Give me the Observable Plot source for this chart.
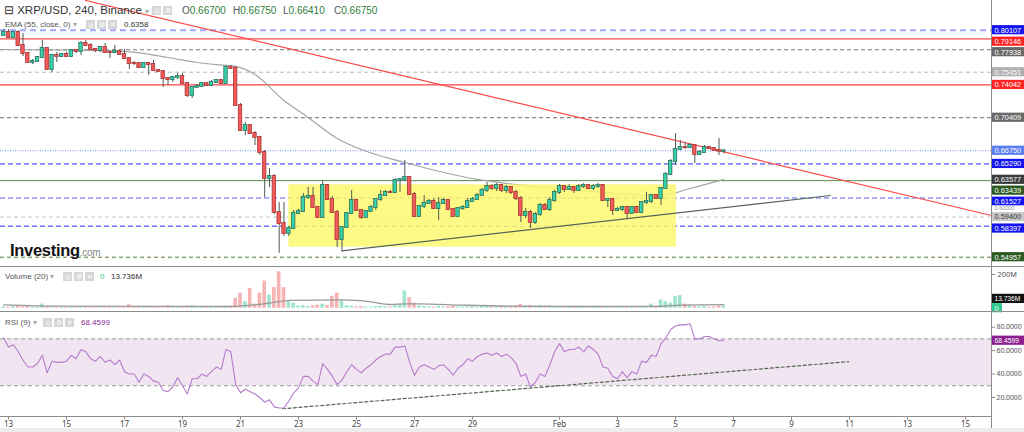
<!DOCTYPE html>
<html><head><meta charset="utf-8">
<script src="https://cdn.jsdelivr.net/npm/d3@7"></script>
<script src="https://cdn.jsdelivr.net/npm/@observablehq/plot@0.6"></script>
<style>
body{margin:0;background:#fff;font-family:Arial,"Liberation Sans",sans-serif;}
#wrap{position:relative;width:1024px;height:432px;overflow:hidden;background:#fff;}
.t{position:absolute;white-space:nowrap;line-height:1;}
.ic{position:absolute;width:9px;height:9px;background:#d6d6d6;color:#fff;font-size:7px;text-align:center;line-height:9px;}
.ln{position:absolute;background:#8c8c8c;}
</style></head><body><div id="wrap"></div>
<script>
// ---------- DATA ----------
const firstCandle = "2019-01-12T20:00Z";   // 4h candles
const firstOpen = 0.7952;
const close = [0.7985,0.7930,0.7985,0.7841,0.7752,0.7653,0.7664,0.7708,0.7808,0.7575,
0.7730,0.7719,0.7741,0.7719,0.7786,0.7775,0.7863,0.7841,0.7797,0.7786,
0.7819,0.7764,0.7762,0.7775,0.7741,0.7697,0.7642,0.7640,0.7597,0.7642,
0.7631,0.7564,0.7553,0.7476,0.7464,0.7487,0.7498,0.7420,0.7287,0.7376,
0.7387,0.7420,0.7398,0.7431,0.7453,0.7420,0.7597,0.7586,0.7176,0.6899,
0.6955,0.6866,0.6822,0.6656,0.6368,0.6390,0.5991,0.5869,0.5758,0.5814,
0.5980,0.6002,0.6157,0.6168,0.6047,0.5936,0.6290,0.6135,0.5991,0.5692,
0.5825,0.5980,0.6124,0.6013,0.5936,0.6002,0.6047,0.6135,0.6179,0.6213,
0.6211,0.6346,0.6357,0.6379,0.6190,0.5947,0.6058,0.6091,0.6113,0.6035,
0.6091,0.6124,0.6024,0.5947,0.6035,0.6047,0.6113,0.6135,0.6179,0.6235,
0.6279,0.6257,0.6290,0.6235,0.6268,0.6213,0.6146,0.5958,0.5991,0.5880,
0.5969,0.6069,0.6024,0.6124,0.6213,0.6279,0.6246,0.6268,0.6235,0.6279,
0.6290,0.6257,0.6279,0.6290,0.6124,0.6135,0.6013,0.6024,0.6047,0.5980,
0.6047,0.5991,0.6102,0.6113,0.6179,0.6146,0.6257,0.6412,0.6556,0.6689,
0.6711,0.6709,0.6733,0.6634,0.6656,0.6711,0.6700,0.6678,0.6670,0.6675];
const high = [0.8018,0.8018,0.7996,0.8007,0.7974,0.7764,0.7686,0.7719,0.7897,0.7819,
0.7741,0.7764,0.7752,0.7764,0.7797,0.7797,0.7885,0.7897,0.7863,0.7808,
0.7830,0.7863,0.7786,0.7841,0.7786,0.7797,0.7700,0.7664,0.7653,0.7653,
0.7653,0.7675,0.7575,0.7564,0.7487,0.7498,0.7531,0.7531,0.7431,0.7387,
0.7409,0.7431,0.7420,0.7453,0.7464,0.7464,0.7609,0.7620,0.7609,0.7199,
0.6988,0.6955,0.6888,0.6833,0.6678,0.6478,0.6412,0.6102,0.6102,0.5836,
0.6013,0.6024,0.6202,0.6268,0.6268,0.6058,0.6346,0.6301,0.6168,0.6013,
0.5836,0.5991,0.6235,0.6135,0.6024,0.6013,0.6069,0.6146,0.6235,0.6235,
0.6235,0.6368,0.6368,0.6567,0.6390,0.6213,0.6069,0.6179,0.6135,0.6146,
0.6157,0.6146,0.6124,0.6035,0.6047,0.6069,0.6146,0.6157,0.6202,0.6257,
0.6323,0.6301,0.6312,0.6301,0.6290,0.6279,0.6235,0.6168,0.6035,0.6013,
0.5991,0.6091,0.6091,0.6157,0.6235,0.6301,0.6290,0.6301,0.6279,0.6301,
0.6312,0.6301,0.6301,0.6312,0.6301,0.6146,0.6146,0.6047,0.6058,0.6058,
0.6058,0.6058,0.6113,0.6213,0.6190,0.6190,0.6268,0.6434,0.6578,0.6866,
0.6789,0.6766,0.6755,0.6744,0.6678,0.6733,0.6722,0.6711,0.6811,0.6675];
const low = [0.7941,0.7919,0.7919,0.7830,0.7719,0.7642,0.7631,0.7664,0.7697,0.7564,
0.7542,0.7653,0.7708,0.7708,0.7708,0.7752,0.7730,0.7830,0.7786,0.7764,
0.7764,0.7752,0.7697,0.7752,0.7730,0.7686,0.7575,0.7620,0.7586,0.7586,
0.7509,0.7553,0.7542,0.7376,0.7398,0.7431,0.7464,0.7409,0.7265,0.7254,
0.7365,0.7376,0.7387,0.7387,0.7420,0.7409,0.7409,0.7575,0.7165,0.6888,
0.6844,0.6855,0.6733,0.6623,0.6157,0.6268,0.5969,0.5537,0.5725,0.5725,
0.5803,0.5969,0.5991,0.6135,0.6035,0.5925,0.5925,0.6124,0.5980,0.5603,
0.5570,0.5814,0.5969,0.6002,0.5914,0.5925,0.6002,0.6013,0.6113,0.6168,
0.6202,0.6202,0.6213,0.6335,0.6179,0.5936,0.5936,0.6035,0.6091,0.6024,
0.5902,0.6080,0.6013,0.5936,0.5947,0.6013,0.6035,0.6113,0.6124,0.6168,
0.6213,0.6235,0.6224,0.6213,0.6202,0.6190,0.6124,0.5880,0.5925,0.5814,
0.5858,0.5947,0.6013,0.6002,0.6102,0.6190,0.6213,0.6235,0.6202,0.6224,
0.6257,0.6246,0.6235,0.6257,0.6113,0.6047,0.5958,0.6002,0.6002,0.5914,
0.5969,0.5980,0.5980,0.6080,0.6091,0.6135,0.6069,0.6246,0.6401,0.6512,
0.6678,0.6689,0.6700,0.6534,0.6623,0.6656,0.6689,0.6667,0.6623,0.6641];
const volumeM = [8,6,10,12,9,14,6,7,24,10,
8,6,5,6,7,5,6,8,6,5,
7,6,5,6,4,7,20,8,6,12,
9,7,10,6,15,8,6,7,12,14,
8,6,5,6,7,5,12,10,59,89,
39,118,24,89,161,78,122,216,122,43,
30,12,15,10,14,18,24,16,70,89,
45,15,12,8,10,7,6,10,12,9,
6,18,24,102,63,30,14,10,8,6,
12,7,9,11,8,6,7,9,6,10,
12,7,6,8,7,10,14,22,12,16,
10,14,8,12,10,6,8,7,6,9,
6,8,5,12,9,7,10,8,12,9,
6,8,10,12,24,12,49,39,30,69,
75,24,18,10,8,12,6,8,14,13.736];
const rsi = [71,63,65,59,52,46,46,49,56,41,
51,50,50,51,56,53,61,59,53,51,
55,50,52,48,52,42,40,40,33,40,
38,34,33,26,25,29,37,30,23,36,
36,40,38,42,46,44,61,59,31,24,
27,25,23,20,16,18,12,11,11,17,
24,28,38,38,34,31,49,44,38,31,
35,42,48,44,41,45,48,52,55,57,
57,63,63,64,50,39,46,48,46,44,
47,48,44,39,45,48,53,51,55,57,
58,56,58,55,57,54,49,38,40,29,
33,40,38,48,59,66,59,61,61,63,
59,64,61,57,46,45,38,36,42,37,
42,40,51,50,56,55,66,71,78,81,
82,82,83,70,70,72,72,70,68.4,68.4599];
// EMA(55) readings: candle index -> value
const emaIdx = [0,25,34,40,46,48,52,58,63,69,74,83,98,110,124,136,142,149];
const emaVal = [0.7797,0.7775,0.7708,0.7653,0.7620,0.7609,0.7520,0.7232,0.7044,0.6811,0.6689,0.6545,0.6357,0.6279,0.6213,0.6179,0.6257,0.6358];
// Volume MA(20) readings (millions)
const vmaIdx = [0,12,47,50,55,59,70,76,80,83,86,95,105,120,135,140,149];
const vmaVal = [20,12,10,15,30,47,49,38,22,26,26,18,12,10,11,18,21];
// horizontal levels drawn on the chart
const levels = [0.80107,0.79146,0.77938,0.75451,0.74042,0.70409,0.66750,0.65290,0.63439,0.61527,0.59400,0.58397,0.54957];
const emaLast = 0.63577, trendRight = 0.60000;
// drawn objects
const redTrendT = ["2019-01-15T15:43Z","2019-02-15T21:30Z"], redTrendP = [0.8340,0.5958];
const supTrendT = ["2019-01-24T11:35Z","2019-02-10T08:10Z"], supTrendP = [0.5565,0.6179];
const boxT = ["2019-01-22T16:00Z","2019-02-05T00:49Z"], boxP = [0.5607,0.6298];
const rsiTrendT = ["2019-01-22T10:45Z","2019-02-10T23:10Z"], rsiTrendV = [10.4,50.6];
const rsiBand = [30,70];
const rsiTicks = [80,60,40,20];
const volTick = 200;
const tickDates = ["2019-01-13","2019-01-15","2019-01-17","2019-01-19","2019-01-21","2019-01-23","2019-01-25","2019-01-27","2019-01-29","2019-02-01","2019-02-03","2019-02-05","2019-02-07","2019-02-09","2019-02-11","2019-02-13","2019-02-15"];
const tickLabels = ["13","15","17","19","21","23","25","27","29","Feb","3","5","7","9","11","13","15"];

// ---------- BUILD ----------
const H4 = 4*3600e3, DAY = 86400e3;
const t0 = Date.parse(firstCandle);
const jan13 = Date.UTC(2019,0,13);
const xDomain = [new Date(jan13 - 8/29*DAY), new Date(jan13 + 983/29*DAY)];
const XR = xDomain[1];
const candles = close.map((c,i)=>({t:new Date(t0+i*H4), o: i?close[i-1]:firstOpen, h:high[i], l:low[i], c, v:volumeM[i]*1e6, r:rsi[i]}));
const up = d => d.c >= d.o;
const UPF="#35d2ab", UPS="#2a6f5c", DNF="#f35b5b", DNS="#a93434", WICK="#4d5d55";
const W = 1024, MR = 33;
const wrap = document.getElementById("wrap");
function place(node, top){ node.style.position="absolute"; node.style.left="0px"; node.style.top=top+"px"; wrap.appendChild(node); }
function rLabel(v, txt, bg, fg, dy, w=33, h=4.6, fs=7.4){
  return [
    Plot.rect([v],{x1:()=>XR,x2:()=>XR,y1:d=>d,y2:d=>d,insetRight:-w,insetTop:-h,insetBottom:-h,fill:bg,dy}),
    Plot.text([v],{x:()=>XR,y:d=>d,text:()=>txt,dx:3,dy,textAnchor:"start",fill:fg,fontSize:fs,fontFamily:"Arial"})
  ];
}
function rTick(vals){ return Plot.ruleY(vals,{x1:()=>XR,x2:()=>XR,insetRight:-4,stroke:"#888"}); }
const levelStyle = [
 {s:"#a3a6ff",d:"6,4",w:2, bg:"#1414f0",fg:"#fff",dy:0},
 {s:"#ff4a4a",d:null,w:1.2, bg:"#ff2424",fg:"#fff",dy:2.8},
 {s:"#777",d:"4,3",w:1, bg:"#6a6a6a",fg:"#fff",dy:2.4},
 {s:"#b8b8b8",d:"4,3",w:1, bg:"#b0b0b0",fg:"#fff",dy:0},
 {s:"#ff4040",d:null,w:1.2, bg:"#ff2424",fg:"#fff",dy:0},
 {s:"#6a6a6a",d:"4,3",w:1, bg:"#6a6a6a",fg:"#fff",dy:0},
 {s:"#6f8dff",d:"1,1.5",w:1, bg:"#5a7ef0",fg:"#fff",dy:0},
 {s:"#2b2bf5",d:"5,3",w:1, bg:"#1414f0",fg:"#fff",dy:0},
 {s:"#5e8a50",d:null,w:1, bg:"#2c5a20",fg:"#fff",dy:10},
 {s:"#9393ff",d:"5,3",w:1.5, bg:"#1414f0",fg:"#fff",dy:3.8},
 {s:"#c4c4c4",d:"4,3",w:1, bg:"#c8c8c8",fg:"#333",dy:0},
 {s:"#2b2bf5",d:"5,3",w:1, bg:"#1414f0",fg:"#fff",dy:2.4},
 {s:"#4f7a3e",d:"4,3",w:1, bg:"#2c5a20",fg:"#fff",dy:0}
];
const mainMarks = [];
levels.forEach((v,i)=>{ const s=levelStyle[i]; mainMarks.push(Plot.ruleY([v],{stroke:s.s,strokeWidth:s.w,strokeDasharray:s.d||undefined})); });
mainMarks.push(Plot.line(emaIdx.map((k,j)=>({t:new Date(t0+k*H4),v:emaVal[j]})),{x:"t",y:"v",stroke:"#a4a4a4",strokeWidth:1.2,curve:"monotone-x"}));
mainMarks.push(Plot.rect([0],{x1:()=>new Date(boxT[0]),x2:()=>new Date(boxT[1]),y1:()=>boxP[0],y2:()=>boxP[1],fill:"#fbf870",fillOpacity:0.85}));
mainMarks.push(Plot.line(redTrendT.map((t,j)=>({t:new Date(t),v:redTrendP[j]})),{x:"t",y:"v",stroke:"#ff4a4a",strokeWidth:1.2}));
mainMarks.push(Plot.line(supTrendT.map((t,j)=>({t:new Date(t),v:supTrendP[j]})),{x:"t",y:"v",stroke:"#56665a",strokeWidth:1.2}));
mainMarks.push(Plot.ruleX(candles,{x:"t",y1:"l",y2:"h",stroke:WICK,strokeWidth:1}));
mainMarks.push(Plot.rect(candles,{x1:"t",x2:"t",y1:"o",y2:"c",insetLeft:-1.7,insetRight:-1.7,insetTop:-0.5,insetBottom:-0.5,fill:d=>up(d)?UPF:DNF,stroke:d=>up(d)?UPS:DNS,strokeWidth:0.8}));
const lab = (i)=>rLabel(levels[i], levels[i].toFixed(5), levelStyle[i].bg, levelStyle[i].fg, levelStyle[i].dy);
[0,1,2,3,4,5,6,7].forEach(i=>mainMarks.push(...lab(i)));
mainMarks.push(...rLabel(emaLast, emaLast.toFixed(5), "#3c3c3c", "#fff", 0.4));
mainMarks.push(...lab(8), ...lab(9));
mainMarks.push(...rLabel(trendRight, trendRight.toFixed(5), "#fff", "#999", -3.2, 33, 2.6, 5.6));
mainMarks.push(...lab(10), ...lab(11), ...lab(12));

const main = Plot.plot({width:W,height:266,marginLeft:0,marginRight:MR,marginTop:0,marginBottom:0,
  x:{type:"utc",domain:xDomain,axis:null}, y:{domain:[0.53927,0.83397],axis:null},
  style:{overflow:"visible",background:"transparent"}, marks:mainMarks});
place(main,0);

// volume pane
const vmaData = vmaIdx.map((k,j)=>({t:new Date(t0+k*H4),v:vmaVal[j]*1e6}));
const vol = Plot.plot({width:W,height:45,marginLeft:0,marginRight:MR,marginTop:0,marginBottom:0,
  x:{type:"utc",domain:xDomain,axis:null}, y:{domain:[-19.6e6,247.5e6],axis:null},
  style:{overflow:"visible",background:"transparent"},
  marks:[
    Plot.rect(candles,{x1:"t",x2:"t",y1:0,y2:"v",insetLeft:-1.8,insetRight:-1.8,fill:d=>up(d)?"#9fe4cc":"#f7b3b3"}),
    Plot.line(vmaData,{x:"t",y:"v",stroke:"#9a9a9a",strokeWidth:1.3,curve:"monotone-x"}),
    rTick([volTick*1e6]),
    Plot.text([volTick*1e6],{x:()=>XR,y:d=>d,text:()=>volTick+"M",dx:6,textAnchor:"start",fill:"#555",fontSize:7.4}),
    ...rLabel(13.736e6,"13.736M","#111","#fff",-7,33,4.6,6.6),
    ...rLabel(0,"0","#2bc98a","#fff",0,11)
  ]});
place(vol,266);

// RSI pane
const rsiData = candles.map(d=>({t:d.t,v:d.r}));
const rsiPlot = Plot.plot({width:W,height:105,marginLeft:0,marginRight:MR,marginTop:0,marginBottom:0,
  x:{type:"utc",domain:xDomain,axis:null}, y:{domain:[3.78,93.4],axis:null},
  style:{overflow:"visible",background:"transparent"},
  marks:[
    Plot.rect([0],{x1:()=>xDomain[0],x2:()=>XR,y1:()=>rsiBand[0],y2:()=>rsiBand[1],fill:"#f2e5f2"}),
    Plot.ruleY(rsiBand,{stroke:"#999",strokeDasharray:"4,3"}),
    Plot.line(rsiTrendT.map((t,j)=>({t:new Date(t),v:rsiTrendV[j]})),{x:"t",y:"v",stroke:"#55664f",strokeDasharray:"3,2.5",strokeWidth:1.2}),
    Plot.line(rsiData,{x:"t",y:"v",stroke:"#b57bcb",strokeWidth:1.1}),
    rTick(rsiTicks),
    Plot.text(rsiTicks,{x:()=>XR,y:d=>d,text:d=>d.toFixed(4),dx:5,textAnchor:"start",fill:"#555",fontSize:6.8}),
    ...rLabel(68.4599,"68.4599","#8b1f8f","#fff",0,33,4.6,6.8)
  ]});
place(rsiPlot,311);

// x axis
const tD = tickDates.map(s=>new Date(s+"T00:00Z"));
const ax = Plot.plot({width:W,height:12,marginLeft:0,marginRight:MR,marginTop:0,marginBottom:0,
  x:{type:"utc",domain:xDomain,axis:null}, y:{domain:[0,1],axis:null},
  style:{overflow:"visible",background:"transparent"},
  marks:[
    Plot.ruleX(tD,{x:d=>d,y1:1,y2:0.7,stroke:"#888"}),
    Plot.text(tD,{x:d=>d,y:0.35,text:(d,i)=>tickLabels[i],fill:"#444",fontSize:8})
  ]});
place(ax,416);

// frame lines and header texts
function div(cls, css, html){ const e=document.createElement("div"); e.className=cls; e.style.cssText=css; if(html!=null) e.innerHTML=html; wrap.appendChild(e); return e; }
div("ln","left:991px;top:0;width:1px;height:428px;");
div("ln","left:0;top:266px;width:1024px;height:1px;");
div("ln","left:0;top:311px;width:1024px;height:1px;");
div("ln","left:0;top:416px;width:992px;height:1px;");
div("","position:absolute;left:0;top:428px;width:1024px;height:4px;background:#ededed;");
div("t","left:4px;top:5px;font-size:11.5px;color:#333;","⊟ XRP/USD, 240, Binance <span style='color:#aaa;font-size:8px'>▾</span>");
div("ic","left:152px;top:6px;","◎"); div("ic","left:163px;top:6px;","⚙");
const ohlc = [["O","0.66700",182],["H","0.66750",233],["L","0.66410",283],["C","0.66750",334]];
ohlc.forEach(([k,v,x])=>div("t",`left:${x}px;top:6px;font-size:10px;color:#555;`,`${k}<span style="color:#2f7d3a">${v}</span>`));
div("t","left:5px;top:21px;font-size:8px;color:#555;","EMA (55, close, 0) <span style='color:#aaa'>▾</span>");
div("ic","left:86px;top:20px;","◎"); div("ic","left:97px;top:20px;","⚙"); div("ic","left:108px;top:20px;","✕");
div("t","left:124px;top:21px;font-size:8px;color:#333;","0.6358");
div("t","left:5px;top:273px;font-size:8px;color:#555;","Volume (20) <span style='color:#aaa'>▾</span>");
div("ic","left:63px;top:272px;","◎"); div("ic","left:74px;top:272px;","⚙"); div("ic","left:85px;top:272px;","✕");
div("t","left:100px;top:273px;font-size:8px;color:#2bc98a;","0");
div("t","left:111px;top:273px;font-size:8px;color:#333;","13.736M");
div("t","left:5px;top:319px;font-size:8px;color:#555;","RSI (9) <span style='color:#aaa'>▾</span>");
div("ic","left:43px;top:318px;","◎"); div("ic","left:54px;top:318px;","⚙"); div("ic","left:65px;top:318px;","✕");
div("t","left:81px;top:319px;font-size:8px;color:#8b1f8f;","68.4599");
div("t","left:10px;top:242px;font-size:16.5px;font-weight:bold;color:#111;letter-spacing:-0.3px;","Investing<span style='font-size:10px;font-weight:normal;color:#888'>.com</span>");
</script></body></html>
